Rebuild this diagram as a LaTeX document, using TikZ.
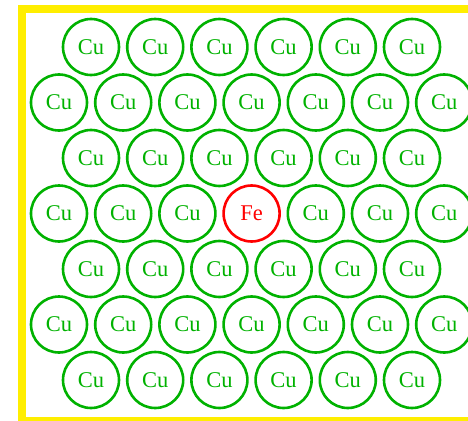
\documentclass[tikz,border=0pt]{standalone}
\usepackage{fontspec}
\setmainfont{Liberation Serif}
\usetikzlibrary{positioning}
\definecolor{cugreen}{RGB}{0,178,0}
\definecolor{frameyellow}{RGB}{255,238,0}

\begin{document}
\begin{tikzpicture}[x=1pt, y=-1pt,
    atom/.style={circle, draw=cugreen, text=cugreen, line width=2.6pt,
        minimum size=56pt, inner sep=0pt, font=\fontsize{22.5}{22.5}\selectfont},
    featom/.style={atom, draw=red, text=red}]

    \useasboundingbox (0,0) rectangle (468,420);

    % =================================================================
    % 1. KHUNG VIỀN
    % =================================================================
    \draw[frameyellow, line width=8pt] (22,9) rectangle (480,421);

    % =================================================================
    % 2. CÁC HÀNG NGUYÊN TỬ Cu (6 nguyên tử)
    % =================================================================
    \foreach \r in {0,2,4,6} {
        \foreach \c in {0,...,5} {
            \node[atom] (a\r\c) at ({91+64.2*\c}, {47+55.5*\r}) {Cu};
        }
    }

    % =================================================================
    % 3. CÁC HÀNG NGUYÊN TỬ Cu (7 nguyên tử)
    % =================================================================
    \foreach \r in {1,5} {
        \foreach \c in {0,...,6} {
            \node[atom] (a\r\c) at ({59+64.2*\c}, {47+55.5*\r}) {Cu};
        }
    }
    % Hàng giữa, nguyên tử Fe thay thế ở vị trí thứ tư
    \foreach \c in {0,1,2,4,5,6} {
        \node[atom] (a3\c) at ({59+64.2*\c}, {47+55.5*3}) {Cu};
    }
    \node[featom] (fe) at ({59+64.2*3}, {47+55.5*3}) {Fe};

\end{tikzpicture}
\end{document}
